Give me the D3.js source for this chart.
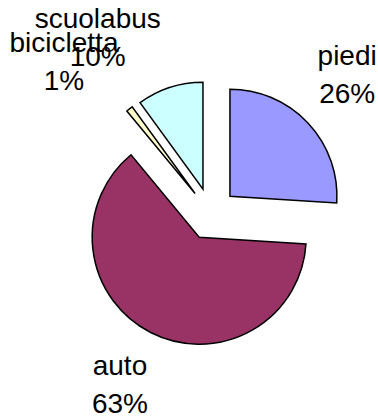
<!DOCTYPE html>
<html>
<head>
<meta charset="utf-8">
<script src="https://cdn.jsdelivr.net/npm/d3@7/dist/d3.min.js"></script>
<style>
  html, body { margin: 0; padding: 0; background: #fff; }
  svg { display: block; }
  text { font-family: Arial, "Liberation Sans", sans-serif; font-size: 28px; fill: #000; }
</style>
</head>
<body>
<svg id="chart" width="378" height="417"></svg>
<script>
// Mezzi di trasporto usati per andare a scuola (percentuali)
const categories = ["piedi", "auto", "bicicletta", "scuolabus"];
const values = [26, 63, 1, 10];
const colors = ["#9999FF", "#993366", "#FFFFCC", "#CCFFFF"];

const width = 378, height = 417;
const cx = 211, cy = 214;       // centre of the pie
const radius = 107;
const explode = 26;             // every slice is pulled out by this amount
const labelRadius = 195;
// small per-slice corrections so the labels sit where they read best
const labelNudge = [[-6, 3.5], [-2.5, 6], [-27.5, 11], [-53, 18]];

const svg = d3.select("#chart");

const total = d3.sum(values);
const pie = d3.pie().sort(null).value(d => d.value).startAngle(0).endAngle(2 * Math.PI);
const arcs = pie(categories.map((c, i) => ({ name: c, value: values[i], color: colors[i] })));

const arc = d3.arc().innerRadius(0).outerRadius(radius);

const g = svg.append("g").attr("transform", `translate(${cx},${cy})`);

g.selectAll("path.slice")
  .data(arcs)
  .join("path")
  .attr("class", "slice")
  .attr("transform", d => {
    const a = (d.startAngle + d.endAngle) / 2;
    return `translate(${explode * Math.sin(a)},${-explode * Math.cos(a)})`;
  })
  .attr("d", arc)
  .attr("fill", d => d.data.color)
  .attr("stroke", "#000")
  .attr("stroke-width", 1.5)
  .attr("stroke-linejoin", "miter");

const fmt = v => Math.round(v / total * 100) + "%";

const labels = g.selectAll("g.label")
  .data(arcs)
  .join("g")
  .attr("class", "label")
  .attr("transform", (d, i) => {
    const a = (d.startAngle + d.endAngle) / 2;
    const x = labelRadius * Math.sin(a) + labelNudge[i][0];
    const y = -labelRadius * Math.cos(a) + labelNudge[i][1];
    return `translate(${x},${y})`;
  });

labels.append("text")
  .attr("text-anchor", "middle")
  .attr("y", -19)
  .text(d => d.data.name);

labels.append("text")
  .attr("text-anchor", "middle")
  .attr("y", 19)
  .text(d => fmt(d.data.value));
</script>
</body>
</html>
